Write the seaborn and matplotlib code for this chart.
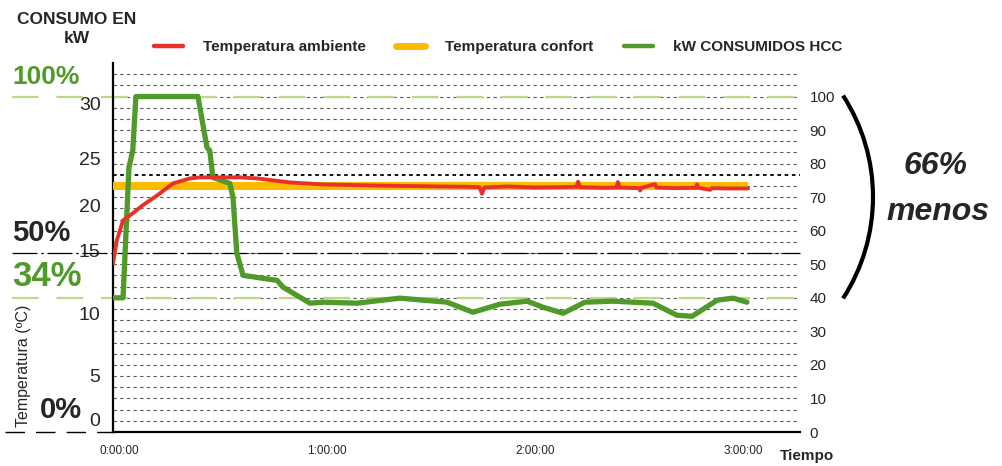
import numpy as np
import pandas as pd
import matplotlib
matplotlib.use("Agg")
import matplotlib.pyplot as plt
import seaborn as sns
from matplotlib.lines import Line2D
from matplotlib.patches import Arc
from matplotlib.transforms import IdentityTransform

# ============================================================
# Datos (tiempo en minutos, valores en la escala del eje derecho 0-100)
# ============================================================
t_kw = [-1.7, 1.2, 2.9, 4.0, 4.9, 22.8, 25.4, 26.2, 27.1, 32.0, 32.9, 34.0,
        35.8, 45.6, 47.3, 55.1, 58.8, 68.6, 81.0, 94.6, 102.1, 109.9, 117.7,
        122.3, 128.1, 134.4, 142.5, 154.0, 160.9, 165.3, 172.5, 177.1, 181.1]
kw_hcc = [40.0, 40.0, 78.9, 83.9, 100.0, 100.0, 84.8, 83.9, 75.9, 74.1, 69.9,
          53.3, 46.7, 45.2, 43.2, 38.4, 38.7, 38.4, 39.9, 38.7, 35.7, 38.1,
          39.0, 37.2, 35.4, 38.7, 39.0, 38.4, 34.8, 34.5, 39.3, 39.9, 38.7]

t_amb = [-1.7, -0.6, 1.2, 4.0, 6.9, 11.0, 15.6, 20.5, 23.4, 34.9, 39.8, 49.3,
         58.8, 78.2, 85.0, 92.0, 100.0, 104.0, 104.7, 105.4, 112.0, 120.0,
         128.0, 132.0, 132.4, 132.9, 140.0, 143.5, 143.9, 144.4, 150.0, 150.3,
         150.7, 154.6, 155.0, 160.0, 166.4, 166.7, 167.1, 170.5, 171.0, 176.0,
         181.4]
temp_amb = [50.3, 57.1, 63.1, 65.2, 67.6, 70.5, 74.1, 75.6, 75.9, 75.9, 75.6,
            74.4, 73.8, 73.4, 73.3, 73.2, 73.1, 73.0, 71.0, 72.9, 73.2, 72.9,
            73.0, 73.1, 74.6, 73.0, 72.8, 72.9, 74.5, 72.9, 72.7, 72.0, 72.8,
            73.9, 72.9, 72.7, 72.8, 73.8, 72.8, 72.2, 72.7, 72.6, 72.6]

t_confort = [-1.7, 181.4]
temp_confort = [73.2, 73.2]

x_ticks = [0, 60, 120, 180]
x_labels = ["0:00:00", "1:00:00", "2:00:00", "3:00:00"]
right_ticks = list(range(0, 101, 10))
left_tick_pos = [3.6, 16.7, 35.4, 54.2, 67.6, 81.5, 97.9]
left_labels = ["0", "5", "10", "15", "20", "25", "30"]

ROJO = "#e8312a"
AMARILLO = "#fdbb00"
VERDE = "#4f9a28"
VERDE_CLARO = "#bcd98a"

sns.set_style("white")
plt.rcParams["font.family"] = ["Liberation Sans", "DejaVu Sans"]

fig = plt.figure(figsize=(10.02, 4.66), dpi=100)
ax = fig.add_axes([113 / 1002, 34 / 466, 687 / 1002, 369 / 466])
ax.set_xlim(-1.7, 196.4)
ax.set_ylim(0, 110)

# rejilla punteada
for k in range(1, 33):
    v = k * 10 / 3
    if k == 23:
        ax.axhline(v, color="black", lw=1.3, ls=(0, (2, 2)), zorder=1)
    else:
        ax.axhline(v, color="#5a5a5a", lw=0.8, ls=(0, (3, 3)), zorder=1)

ytr = ax.get_yaxis_transform()
# lineas de referencia 100% / 50% / 34% / 0%
ax.plot([-0.147, 1], [100, 100], transform=ytr, clip_on=False, color=VERDE_CLARO,
        lw=1.6, ls=(0, (12, 8)), zorder=2)
ax.plot([-0.147, 1], [160 / 3, 160 / 3], transform=ytr, clip_on=False,
        color="black", lw=0.9, ls=(0, (20, 3, 2, 3)), zorder=2)
ax.plot([-0.147, 1], [40, 40], transform=ytr, clip_on=False, color=VERDE_CLARO,
        lw=1.6, ls=(0, (12, 8)), zorder=2)
ax.plot([-0.157, 0], [0, 0], transform=ytr, clip_on=False, color="black",
        lw=1.0, ls=(0, (14, 8)), zorder=2)

df_conf = pd.DataFrame({"t": t_confort, "v": temp_confort})
df_kw = pd.DataFrame({"t": t_kw, "v": kw_hcc})
df_amb = pd.DataFrame({"t": t_amb, "v": temp_amb})
sns.lineplot(data=df_conf, x="t", y="v", ax=ax, color=AMARILLO, lw=5.8,
             solid_capstyle="butt", zorder=3)
sns.lineplot(data=df_kw, x="t", y="v", ax=ax, color=VERDE, lw=3.8,
             sort=False, zorder=4)
sns.lineplot(data=df_amb, x="t", y="v", ax=ax, color=ROJO, lw=2.8,
             sort=False, zorder=5)

ax.set_xlabel("")
ax.set_ylabel("")
for s in ["top", "right"]:
    ax.spines[s].set_visible(False)
ax.spines["left"].set_color("black")
ax.spines["left"].set_linewidth(1.6)
ax.spines["bottom"].set_color("black")
ax.spines["bottom"].set_linewidth(1.6)

ax.set_xticks(x_ticks)
ax.set_xticklabels(x_labels, fontsize=8.5)
ax.set_yticks(left_tick_pos)
ax.set_yticklabels(left_labels, fontsize=14)
ax.tick_params(axis="x", length=0, pad=9)
ax.tick_params(axis="y", length=0, pad=9)

ax2 = ax.twinx()
ax2.set_ylim(0, 110)
ax2.set_yticks(right_ticks)
ax2.set_yticklabels([str(v) for v in right_ticks], fontsize=11)
ax2.tick_params(axis="y", length=0, pad=7)
for s in ax2.spines.values():
    s.set_visible(False)

# leyenda
handles = [Line2D([], [], color=ROJO, lw=3.2),
           Line2D([], [], color=AMARILLO, lw=5),
           Line2D([], [], color=VERDE, lw=3.2)]
names = ["Temperatura ambiente", "Temperatura confort", "kW CONSUMIDOS HCC"]
fig.legend(handles, names, loc="center", bbox_to_anchor=(498 / 1002, 1 - 47 / 466),
           ncol=3, frameon=False, prop={"size": 11, "weight": "bold"},
           handlelength=1.9, handletextpad=1.3, columnspacing=2.0)

# textos
def ftext(x, y, s, **kw):
    fig.text(x / 1002, 1 - y / 466, s, **kw)

ftext(77, 29, "CONSUMO EN\nkW", ha="center", va="center", fontsize=12.5,
      fontweight="bold", linespacing=1.3)
ftext(12, 77, "100%", ha="left", va="center", fontsize=19, fontweight="bold",
      color=VERDE)
ftext(12, 233, "50%", ha="left", va="center", fontsize=21, fontweight="bold")
ftext(12, 277, "34%", ha="left", va="center", fontsize=25, fontweight="bold",
      color=VERDE)
ftext(40, 410, "0%", ha="left", va="center", fontsize=21, fontweight="bold")
ftext(24, 366, "Temperatura (ºC)", ha="center", va="center", rotation=90,
      fontsize=11.5)
ftext(807, 456, "Tiempo", ha="center", va="center", fontsize=11,
      fontweight="bold")
ftext(936, 166, "66%", ha="center", va="center", fontsize=23,
      fontweight="bold", style="italic")
ftext(938, 212, "menos", ha="center", va="center", fontsize=23,
      fontweight="bold", style="italic")

# corchete
R = 186.7
fig.add_artist(Arc((873 - R, 466 - 197), 2 * R, 2 * R, theta1=-32.9, theta2=32.9,
                   transform=IdentityTransform(), color="black", lw=3.0))

fig.savefig("out.png", dpi=100)
